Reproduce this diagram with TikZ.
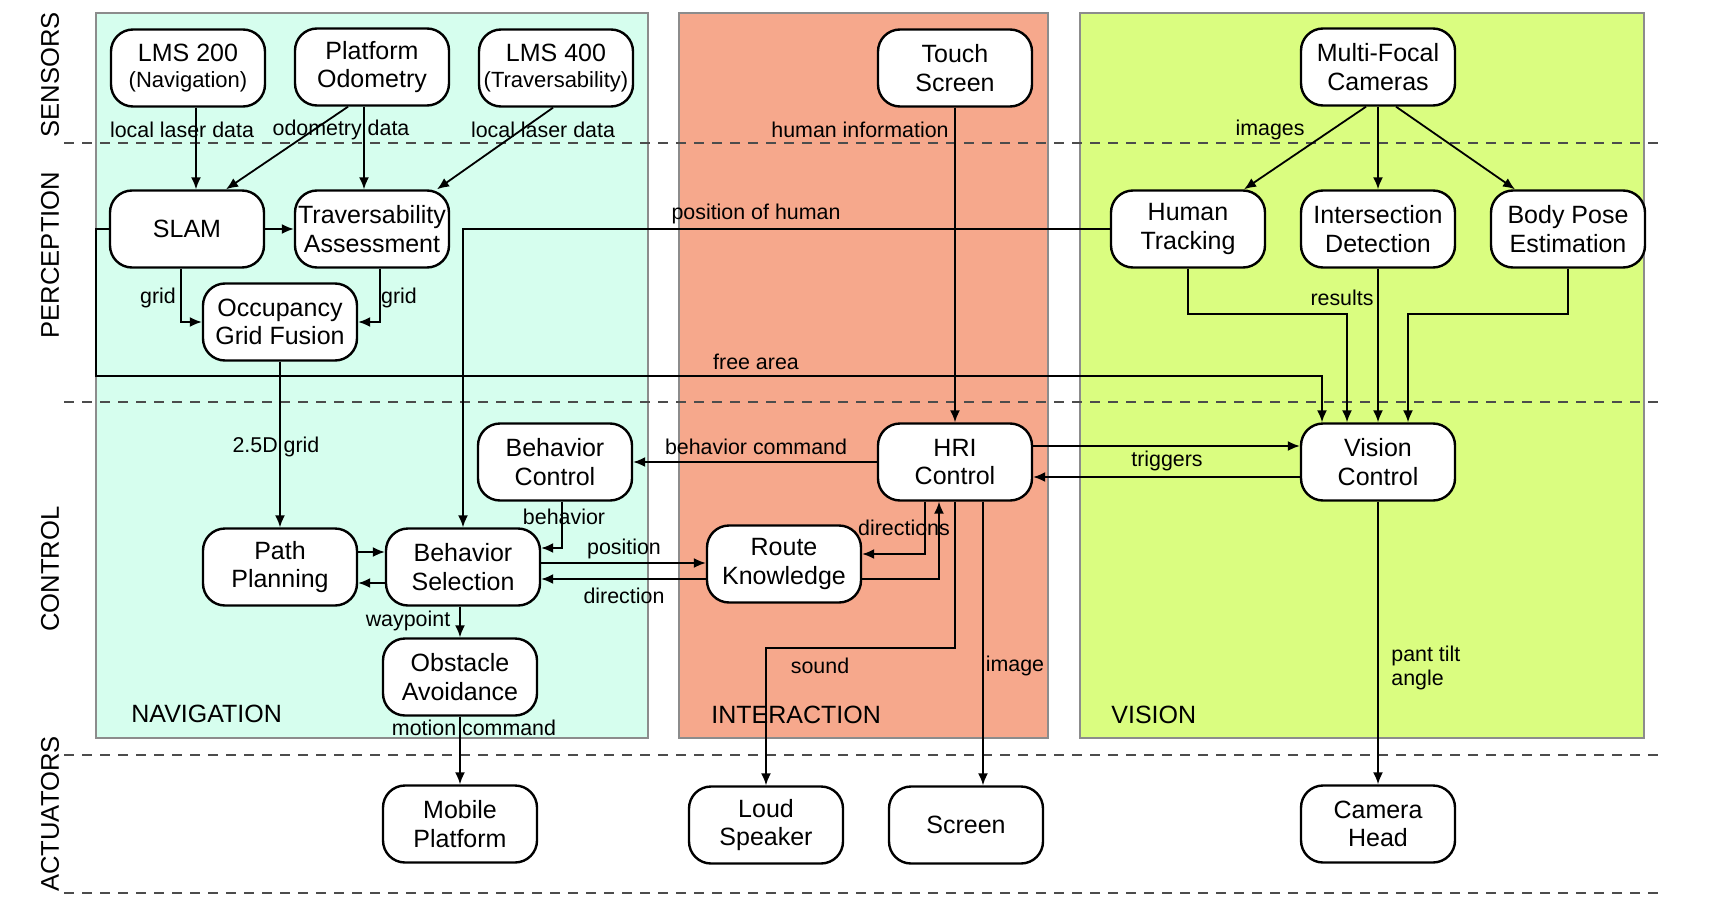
\documentclass[tikz,border=0pt]{standalone}
\usepackage{fontspec}
\setmainfont{Liberation Sans}
\usetikzlibrary{arrows.meta}
\definecolor{navc}{RGB}{214,254,238}
\definecolor{intc}{RGB}{246,168,140}
\definecolor{visc}{RGB}{218,253,128}
\definecolor{panb}{RGB}{140,140,140}
\begin{document}
\begin{tikzpicture}[x=0.5pt,y=-0.5pt,
  box/.style={draw=black, line width=1.2pt, fill=white, rounded corners=11pt, minimum width=77pt, minimum height=38.5pt, inner sep=0pt, align=center, font=\fontsize{12.5}{14.3}\selectfont},
  lbl/.style={font=\fontsize{10.7}{12}\selectfont, inner sep=0pt},
  arr/.style={line width=0.9pt, -{Latex[length=6pt,width=5pt]}},
  panel/.style={draw=panb, line width=1.2pt},
  sep/.style={draw=black!70, line width=0.7pt, dash pattern=on 5pt off 4pt},
  rowlbl/.style={rotate=90, font=\fontsize{12.8}{14}\selectfont, inner sep=0pt},
  panlbl/.style={anchor=west, font=\fontsize{12.5}{14}\selectfont, inner sep=0pt}]
\useasboundingbox (0,0) rectangle (1728,920);
% panels
\fill[navc] (96,13) rectangle (648,738);
\draw[panel] (96,13) rectangle (648,738);
\fill[intc] (679,13) rectangle (1048,738);
\draw[panel] (679,13) rectangle (1048,738);
\fill[visc] (1080,13) rectangle (1644,738);
\draw[panel] (1080,13) rectangle (1644,738);
% separators
\draw[sep] (64,143) -- (1658,143);
\draw[sep] (64,402) -- (1658,402);
\draw[sep] (64,755) -- (1658,755);
\draw[sep] (64,893) -- (1658,893);
% row labels
\node[rowlbl] (rsen) at (50,75) {SENSORS};
\node[rowlbl] (rper) at (50,255) {PERCEPTION};
\node[rowlbl] (rcon) at (50,569) {CONTROL};
\node[rowlbl] (ract) at (50,814) {ACTUATORS};
% panel labels
\node[panlbl] (pnav) at (131,714) {NAVIGATION};
\node[panlbl] (pint) at (711,715) {INTERACTION};
\node[panlbl] (pvis) at (1111,715) {VISION};
% nodes
\node[box] (lms200) at (188,68) {LMS 200\\[-1.5pt]{\fontsize{11}{12}\selectfont (Navigation)}};
\node[box] (odo) at (372,67) {Platform\\Odometry};
\node[box] (lms400) at (556,68) {LMS 400\\[-1.5pt]{\fontsize{11}{12}\selectfont (Traversability)}};
\node[box] (touch) at (955,68) {Touch\\Screen};
\node[box] (mfc) at (1378,67) {Multi-Focal\\Cameras};
\node[box] (slam) at (187,229) {SLAM};
\node[box] (trav) at (372,229) {Traversability\\Assessment};
\node[box] (ogf) at (280,322) {Occupancy\\Grid Fusion};
\node[box] (ht) at (1188,229) {Human\\Tracking};
\node[box] (idet) at (1378,229) {Intersection\\Detection};
\node[box] (bpe) at (1568,229) {Body Pose\\Estimation};
\node[box] (bctrl) at (555,462) {Behavior\\Control};
\node[box] (hri) at (955,462) {HRI\\Control};
\node[box] (vc) at (1378,462) {Vision\\Control};
\node[box] (pp) at (280,567) {Path\\Planning};
\node[box] (bs) at (463,567) {Behavior\\Selection};
\node[box] (rk) at (784,564) {Route\\Knowledge};
\node[box] (oa) at (460,677) {Obstacle\\Avoidance};
\node[box] (mp) at (460,824) {Mobile\\Platform};
\node[box] (ls) at (766,825) {Loud\\Speaker};
\node[box] (scr) at (966,825) {Screen};
\node[box] (ch) at (1378,824) {Camera\\Head};
% edges
\draw[arr] (196,0 |- lms200.south) -- (196,0 |- slam.north);
\draw[arr] (348,0 |- odo.south) -- (226,0 |- slam.north);
\draw[arr] (364,0 |- odo.south) -- (364,0 |- trav.north);
\draw[arr] (553,0 |- lms400.south) -- (437,0 |- trav.north);
\draw[arr] (slam.east) -- (trav.west);
\draw[arr] (181,0 |- slam.south) |- (ogf.west);
\draw[arr] (380,0 |- trav.south) |- (ogf.east);
\draw[arr] (ogf.south) -- (pp.north);
\draw[arr] (slam.west) -| (96,376) -| (1322,0 |- vc.north);
\draw[arr] (ht.west) -| (bs.north);
\draw[arr] (ht.south) |- (1347,314) -- (1347,0 |- vc.north);
\draw[arr] (idet.south) -- (vc.north);
\draw[arr] (bpe.south) |- (1408,314) -- (1408,0 |- vc.north);
\draw[arr] (1366,0 |- mfc.south) -- (1244,0 |- ht.north);
\draw[arr] (mfc.south) -- (idet.north);
\draw[arr] (1396,0 |- mfc.south) -- (1515,0 |- bpe.north);
\draw[arr] (touch.south) -- (hri.north);
\draw[arr] (hri.west) -- (bctrl.east);
\draw[arr] (hri.east |- 0,446) -- (vc.west |- 0,446);
\draw[arr] (vc.west |- 0,477) -- (hri.east |- 0,477);
\draw[arr] (562,0 |- bctrl.south) |- (bs.east |- 0,548);
\draw[arr] (pp.east |- 0,552) -- (bs.west |- 0,552);
\draw[arr] (bs.west |- 0,583) -- (pp.east |- 0,583);
\draw[arr] (bs.east |- 0,563) -- (rk.west |- 0,563);
\draw[arr] (rk.west |- 0,579) -- (bs.east |- 0,579);
\draw[arr] (925,0 |- hri.south) |- (rk.east |- 0,554);
\draw[arr] (rk.east |- 0,579) -| (939,0 |- hri.south);
\draw[arr] (hri.south) |- (ls.north |- 0,648) -- (ls.north);
\draw[arr] (983,0 |- hri.south) -- (983,0 |- scr.north);
\draw[arr] (vc.south) -- (ch.north);
\draw[arr] (460,0 |- bs.south) -- (oa.north);
\draw[arr] (oa.south) -- (mp.north);
% labels
\node[lbl] (t1) at (182,130) {local laser data};
\node[lbl] (t2) at (341,130) {odometry data};
\node[lbl] (t3) at (543,130) {local laser data};
\node[lbl] (t4) at (860,130) {human information};
\node[lbl] (t5) at (1270,130) {images};
\node[lbl] (t6) at (756,214) {position of human};
\node[lbl] (t7) at (158,298) {grid};
\node[lbl] (t8) at (399,298) {grid};
\node[lbl] (t9) at (1342,298) {results};
\node[lbl] (t10) at (756,362) {free area};
\node[lbl] (t11) at (276,447) {2.5D grid};
\node[lbl] (t12) at (756,447) {behavior command};
\node[lbl] (t13) at (1167,461) {triggers};
\node[lbl] (t14) at (564,517) {behavior};
\node[lbl] (t15) at (624,549) {position};
\node[lbl] (t16) at (624,596) {direction};
\node[lbl] (t17) at (904,528) {directions};
\node[lbl] (t18) at (408,621) {waypoint};
\node[lbl] (t19) at (820,666) {sound};
\node[lbl] (t20) at (1015,666) {image};
\node[lbl, align=left, anchor=west] (t21) at (1391,668) {pant tilt\\angle};
\node[lbl] (t22) at (474,728) {motion command};
\end{tikzpicture}
\end{document}
